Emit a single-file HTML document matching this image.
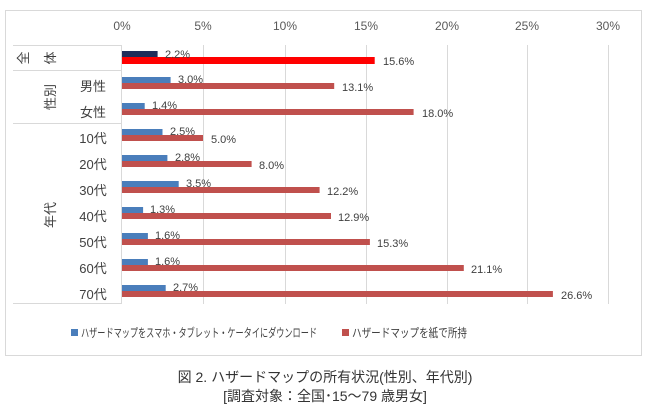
<!DOCTYPE html>
<html><head><meta charset="utf-8"><style>
body{margin:0;background:#fff;width:650px;height:405px;overflow:hidden}
svg text{font-family:"Liberation Sans","Noto Sans CJK JP",sans-serif}
</style></head><body>
<svg width="650" height="405" viewBox="0 0 650 405">
<rect x="5.5" y="10.5" width="636" height="345" fill="#fff" stroke="#d9d9d9"/>
<g stroke="#d9d9d9" stroke-width="1">
<line x1="203.5" y1="45" x2="203.5" y2="304"/>
<line x1="285.5" y1="45" x2="285.5" y2="304"/>
<line x1="366.5" y1="45" x2="366.5" y2="304"/>
<line x1="447.5" y1="45" x2="447.5" y2="304"/>
<line x1="527.5" y1="45" x2="527.5" y2="304"/>
<line x1="608.5" y1="45" x2="608.5" y2="304"/>
<line x1="13" y1="45.5" x2="121" y2="45.5"/>
<line x1="13" y1="70.5" x2="121" y2="70.5"/>
<line x1="13" y1="123.5" x2="121" y2="123.5"/>
<line x1="13" y1="303.5" x2="121" y2="303.5"/>
<line x1="121.5" y1="45" x2="121.5" y2="304"/>
</g>
<g font-size="12" fill="#595959" text-anchor="middle">
<text x="122" y="30">0%</text><text x="203" y="30">5%</text><text x="285" y="30">10%</text><text x="366" y="30">15%</text><text x="447" y="30">20%</text><text x="527" y="30">25%</text><text x="608" y="30">30%</text>
</g>
<g font-size="13" fill="#404040" text-anchor="middle">
<text x="23" y="63" transform="rotate(-90 23 58)">全</text>
<text x="50" y="63" transform="rotate(-90 50 58)">体</text>
<text x="50" y="102" transform="rotate(-90 50 97)">性別</text>
<text x="50" y="220" transform="rotate(-90 50 215)">年代</text>
<text x="93" y="91">男性</text><text x="93" y="117">女性</text>
<text x="93" y="143">10代</text><text x="93" y="169">20代</text><text x="93" y="195">30代</text><text x="93" y="221">40代</text><text x="93" y="247">50代</text><text x="93" y="273">60代</text><text x="93" y="299">70代</text>
</g>
<g>
<rect x="122" y="51" width="35.6" height="6" fill="#1f2d5a"/><rect x="122" y="57" width="252.7" height="7" fill="#ff0000"/>
<rect x="122" y="77" width="48.6" height="6" fill="#4a7ebb"/><rect x="122" y="83" width="212.2" height="6" fill="#c0504d"/>
<rect x="122" y="103" width="22.7" height="6" fill="#4a7ebb"/><rect x="122" y="109" width="291.6" height="6" fill="#c0504d"/>
<rect x="122" y="129" width="40.5" height="6" fill="#4a7ebb"/><rect x="122" y="135" width="81" height="6" fill="#c0504d"/>
<rect x="122" y="155" width="45.4" height="6" fill="#4a7ebb"/><rect x="122" y="161" width="129.6" height="6" fill="#c0504d"/>
<rect x="122" y="181" width="56.7" height="6" fill="#4a7ebb"/><rect x="122" y="187" width="197.6" height="6" fill="#c0504d"/>
<rect x="122" y="207" width="21.1" height="6" fill="#4a7ebb"/><rect x="122" y="213" width="209" height="6" fill="#c0504d"/>
<rect x="122" y="233" width="25.9" height="6" fill="#4a7ebb"/><rect x="122" y="239" width="247.9" height="6" fill="#c0504d"/>
<rect x="122" y="259" width="25.9" height="6" fill="#4a7ebb"/><rect x="122" y="265" width="341.8" height="6" fill="#c0504d"/>
<rect x="122" y="285" width="43.7" height="6" fill="#4a7ebb"/><rect x="122" y="291" width="430.9" height="6" fill="#c0504d"/>
</g>
<g font-size="11" fill="#404040">
<text x="165" y="58">2.2%</text><text x="383" y="65">15.6%</text>
<text x="178" y="83">3.0%</text><text x="342" y="91">13.1%</text>
<text x="152" y="109">1.4%</text><text x="422" y="117">18.0%</text>
<text x="170" y="135">2.5%</text><text x="211" y="143">5.0%</text>
<text x="175" y="161">2.8%</text><text x="259" y="169">8.0%</text>
<text x="186" y="187">3.5%</text><text x="327" y="195">12.2%</text>
<text x="150" y="213">1.3%</text><text x="338" y="221">12.9%</text>
<text x="155" y="239">1.6%</text><text x="377" y="247">15.3%</text>
<text x="155" y="265">1.6%</text><text x="471" y="273">21.1%</text>
<text x="173" y="291">2.7%</text><text x="561" y="299">26.6%</text>
</g>
<rect x="71" y="329" width="7" height="7" fill="#4a7ebb"/>
<text x="81" y="337" font-size="12" fill="#404040" textLength="236" lengthAdjust="spacingAndGlyphs">ハザードマップをスマホ・タブレット・ケータイにダウンロード</text>
<rect x="342" y="329" width="7" height="7" fill="#c0504d"/>
<text x="352" y="337" font-size="12" fill="#404040" textLength="115" lengthAdjust="spacingAndGlyphs">ハザードマップを紙で所持</text>
<g font-size="14" fill="#333" text-anchor="middle">
<text x="325" y="382">図 2. ハザードマップの所有状況(性別、年代別)</text>
<text x="325" y="401">[調査対象：全国･15～79 歳男女]</text>
</g>
</svg>
</body></html>
